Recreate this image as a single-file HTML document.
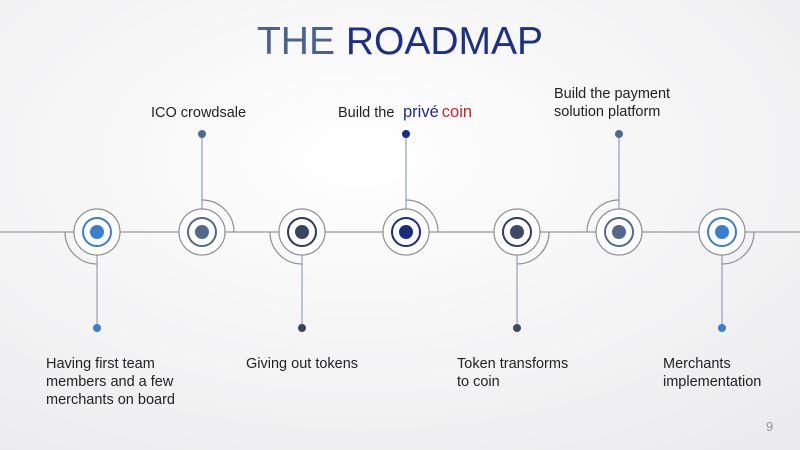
<!DOCTYPE html>
<html><head><meta charset="utf-8"><style>
html,body{margin:0;padding:0;width:800px;height:450px;overflow:hidden;background:#fff}
svg{display:block}
text{font-family:"Liberation Sans",sans-serif}
</style></head><body>
<svg width="800" height="450" viewBox="0 0 800 450">
<defs><radialGradient id="bg" cx="0.45" cy="0.35" r="0.8"><stop offset="0" stop-color="#ffffff"/><stop offset="1" stop-color="#ececee"/></radialGradient></defs>
<rect width="800" height="450" fill="url(#bg)"/>
<text x="400" y="54" text-anchor="middle" font-size="39"><tspan fill="#4a6290">THE </tspan><tspan fill="#1c2f8a">ROADMAP</tspan></text>
<line x1="0" y1="232" x2="800" y2="232" stroke="#a8a8ac" stroke-width="1.5"/>
<g fill="none" stroke="#9aa6c4" stroke-width="1.3">
<line x1="97" y1="232" x2="97" y2="328"/>
<line x1="202" y1="232" x2="202" y2="134"/>
<line x1="302" y1="232" x2="302" y2="328"/>
<line x1="406" y1="232" x2="406" y2="134"/>
<line x1="517" y1="232" x2="517" y2="328"/>
<line x1="619" y1="232" x2="619" y2="134"/>
<line x1="722" y1="232" x2="722" y2="328"/>
</g>
<g fill="none" stroke="#8e8e92" stroke-width="1.2">
<path d="M65 232 A32 32 0 0 0 97 264"/>
<path d="M202 200 A32 32 0 0 1 234 232"/>
<path d="M270 232 A32 32 0 0 0 302 264"/>
<path d="M406 200 A32 32 0 0 1 438 232"/>
<path d="M549 232 A32 32 0 0 1 517 264"/>
<path d="M587 232 A32 32 0 0 1 619 200"/>
<path d="M754 232 A32 32 0 0 1 722 264"/>
</g>
<g>
<g transform="translate(97,232)"><circle r="23" fill="#fff" stroke="#8e8e92" stroke-width="1.2"/><circle r="14" fill="#fff" stroke="#3a7fcf" stroke-width="2"/><circle r="7" fill="#3a7fcf"/></g>
<g transform="translate(202,232)"><circle r="23" fill="#fff" stroke="#8e8e92" stroke-width="1.2"/><circle r="14" fill="#fff" stroke="#52698f" stroke-width="2"/><circle r="7" fill="#52698f"/></g>
<g transform="translate(302,232)"><circle r="23" fill="#fff" stroke="#8e8e92" stroke-width="1.2"/><circle r="14" fill="#fff" stroke="#2b3a5c" stroke-width="2"/><circle r="7" fill="#37455f"/></g>
<g transform="translate(406,232)"><circle r="23" fill="#fff" stroke="#8e8e92" stroke-width="1.2"/><circle r="14" fill="#fff" stroke="#1a2b88" stroke-width="2"/><circle r="7" fill="#1a2b80"/></g>
<g transform="translate(517,232)"><circle r="23" fill="#fff" stroke="#8e8e92" stroke-width="1.2"/><circle r="14" fill="#fff" stroke="#2e3d5e" stroke-width="2"/><circle r="7" fill="#3d4a66"/></g>
<g transform="translate(619,232)"><circle r="23" fill="#fff" stroke="#8e8e92" stroke-width="1.2"/><circle r="14" fill="#fff" stroke="#52698f" stroke-width="2"/><circle r="7" fill="#52698f"/></g>
<g transform="translate(722,232)"><circle r="23" fill="#fff" stroke="#8e8e92" stroke-width="1.2"/><circle r="14" fill="#fff" stroke="#3a7fcf" stroke-width="2"/><circle r="7" fill="#3a7fcf"/></g>
</g>
<circle cx="97" cy="328" r="4" fill="#3a7fcf"/>
<circle cx="202" cy="134" r="4" fill="#52698f"/>
<circle cx="302" cy="328" r="4" fill="#37455f"/>
<circle cx="406" cy="134" r="4" fill="#1a2b80"/>
<circle cx="517" cy="328" r="4" fill="#3d4a66"/>
<circle cx="619" cy="134" r="4" fill="#52698f"/>
<circle cx="722" cy="328" r="4" fill="#3a7fcf"/>
<g font-size="14.5" fill="#222">
<text x="151" y="117">ICO crowdsale</text>
<text x="338" y="117">Build the</text>
<text x="403" y="117" font-size="16.5"><tspan fill="#1c2f8a">privé</tspan><tspan fill="#d0232a" dx="3">coin</tspan></text>
<text x="554" y="98">Build the payment</text>
<text x="554" y="116">solution platform</text>
<text x="46" y="368">Having first team</text>
<text x="46" y="386">members and a few</text>
<text x="46" y="404">merchants on board</text>
<text x="246" y="368">Giving out tokens</text>
<text x="457" y="368">Token transforms</text>
<text x="457" y="386">to coin</text>
<text x="663" y="368">Merchants</text>
<text x="663" y="386">implementation</text>
</g>
<text x="766" y="431" font-size="13" fill="#999">9</text>
</svg>
</body></html>
